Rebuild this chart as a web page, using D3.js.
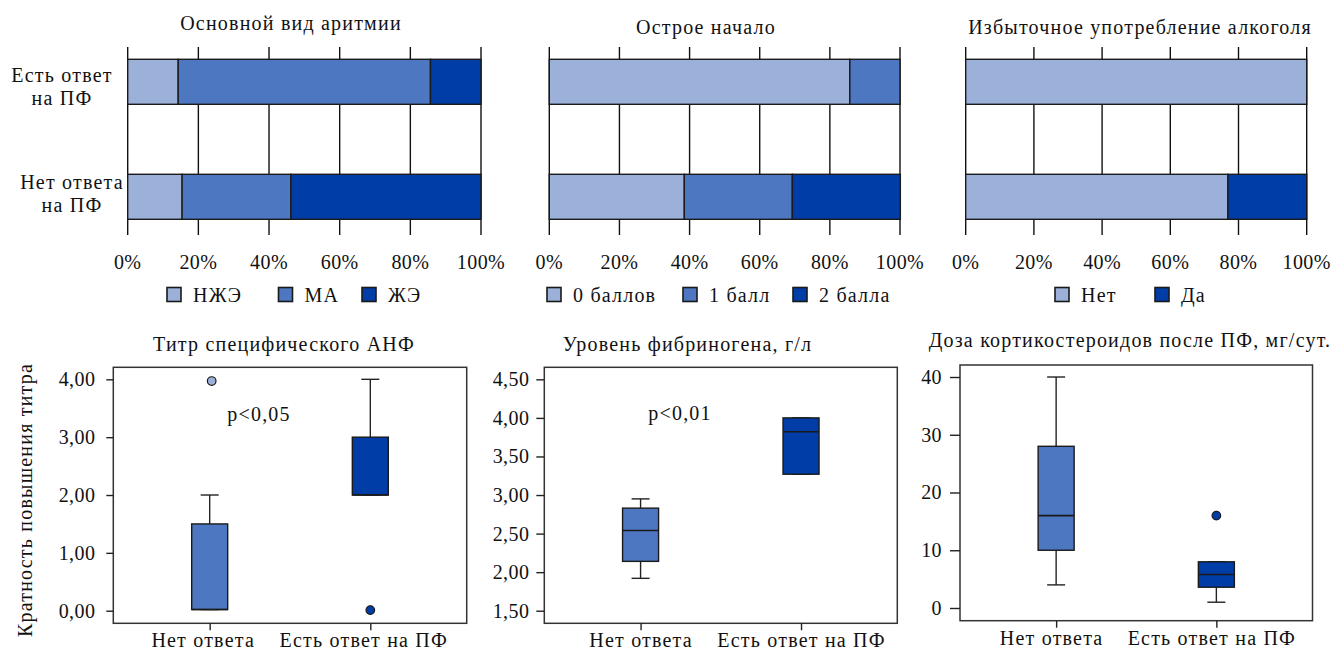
<!DOCTYPE html>
<html lang="ru">
<head>
<meta charset="utf-8">
<script src="https://cdn.jsdelivr.net/npm/d3@7"></script>
<style>
  html, body { margin: 0; padding: 0; background: #fff; }
  svg { display: block; }
  svg text { font-family: "Liberation Serif", "Times New Roman", serif; font-size: 20px; letter-spacing: 1.2px; fill: #111; }
  svg text.num { letter-spacing: 0.4px; }
</style>
</head>
<body>
<svg id="chart" width="1336" height="655"></svg>
<script>
// ---- Data ----
const groups = ["Есть ответ на ПФ", "Нет ответа на ПФ"];
const groupLines = [["Есть ответ", "на ПФ"], ["Нет ответа", "на ПФ"]];
const percentTicks = [0, 20, 40, 60, 80, 100];

const rhythmTypes = ["НЖЭ", "МА", "ЖЭ"];
const rhythmShares = [[14.3, 71.4, 14.3], [15.4, 30.8, 53.8]];

const onsetScores = ["0 баллов", "1 балл", "2 балла"];
const onsetShares = [[85.7, 14.3, 0], [38.5, 30.8, 30.8]];

const alcoholAnswers = ["Нет", "Да"];
const alcoholShares = [[100, 0], [76.9, 23.1]];

const boxGroups = ["Нет ответа", "Есть ответ на ПФ"];

const titerStats = [
  { low: 0.02, q1: 0.02, median: 0.02, q3: 1.5, high: 2.0 },
  { low: 2.0, q1: 2.0, median: 2.0, q3: 3.0, high: 4.0 }
];
const titerOutliers = [[3.97], [0.01]];
const titerTicks = [0, 1, 2, 3, 4];

const fibrinogenStats = [
  { low: 1.92, q1: 2.14, median: 2.54, q3: 2.83, high: 2.95 },
  { low: 3.27, q1: 3.27, median: 3.82, q3: 4.0, high: 4.0 }
];
const fibrinogenOutliers = [[], []];
const fibrinogenTicks = [1.5, 2, 2.5, 3, 3.5, 4, 4.5];

const steroidStats = [
  { low: 4, q1: 10, median: 16, q3: 28, high: 40 },
  { low: 1, q1: 3.6, median: 5.8, q3: 8, high: 8 }
];
const steroidOutliers = [[], [16]];
const steroidTicks = [0, 10, 20, 30, 40];

// ---- Palette ----
const LIGHT = "#9bb1da", MID = "#4d77c1", DARK = "#003da6";

const svg = d3.select("#chart");

// ---- Stacked percentage bars ----
function stackedPanel(cfg) {
  const g = svg.append("g");
  const x = d3.scaleLinear().domain([0, 100]).range([cfg.x0, cfg.x1]);
  const y = d3.scaleBand().domain(groups).range([59.3, 219.3])
    .paddingInner(70 / 115).paddingOuter(0);

  // vertical grid / tick lines
  g.append("g").selectAll("line").data(percentTicks).join("line")
    .attr("x1", d => x(d)).attr("x2", d => x(d))
    .attr("y1", 47).attr("y2", 235)
    .attr("stroke", "#111").attr("stroke-width", 1.4);

  const rows = groups.map((grp, i) => {
    const o = { group: grp };
    cfg.keys.forEach((k, j) => o[k] = cfg.values[i][j]);
    return o;
  });
  const series = d3.stack().keys(cfg.keys)(rows);

  g.append("g").selectAll("g").data(series).join("g")
    .attr("fill", (s, i) => cfg.colors[i])
    .selectAll("rect").data(s => s.filter(d => d[1] - d[0] > 0)).join("rect")
    .attr("x", d => x(d[0])).attr("width", d => x(d[1]) - x(d[0]))
    .attr("y", d => y(d.data.group)).attr("height", y.bandwidth())
    .attr("stroke", "#1a1a1a").attr("stroke-width", 1.4);

  // tick labels
  g.append("g").selectAll("text").data(percentTicks).join("text")
    .attr("class", "num")
    .attr("x", d => x(d)).attr("y", 269)
    .attr("text-anchor", "middle")
    .text(d => d + "%");

  // title
  g.append("text").attr("x", cfg.titleX).attr("y", cfg.titleY)
    .attr("text-anchor", "middle").text(cfg.title);

  // legend
  const items = g.append("g").selectAll("g").data(cfg.keys).join("g")
    .attr("transform", (d, i) => `translate(${cfg.legendX[i]},0)`);
  items.append("rect").attr("width", 14).attr("height", 14)
    .attr("y", 287.5).attr("fill", (d, i) => cfg.colors[i])
    .attr("stroke", "#1a1a1a").attr("stroke-width", 1.6);
  items.append("text").attr("x", 26).attr("y", 302).text(d => d);

  if (cfg.showGroups) {
    const baselines = [[82, 105], [189, 212]];
    const centers = [62, 72];
    const lab = g.append("g");
    groups.forEach((grp, i) => {
      const t = lab.append("text").attr("text-anchor", "middle");
      groupLines[i].forEach((line, k) => {
        t.append("tspan").attr("x", centers[i]).attr("y", baselines[i][k]).text(line);
      });
    });
  }
}

stackedPanel({ x0: 127.7, x1: 481, keys: rhythmTypes, values: rhythmShares,
  colors: [LIGHT, MID, DARK], title: "Основной вид аритмии", titleX: 291, titleY: 30,
  legendX: [167, 278.5, 362], showGroups: true });
stackedPanel({ x0: 549.3, x1: 900, keys: onsetScores, values: onsetShares,
  colors: [LIGHT, MID, DARK], title: "Острое начало", titleX: 706, titleY: 34,
  legendX: [547, 683, 793], showGroups: false });
stackedPanel({ x0: 965.7, x1: 1306.7, keys: alcoholAnswers, values: alcoholShares,
  colors: [LIGHT, DARK], title: "Избыточное употребление алкоголя", titleX: 1140, titleY: 34,
  legendX: [1055, 1155], showGroups: false });

// ---- Box plots ----
function boxPanel(cfg) {
  const g = svg.append("g");
  const x = d3.scalePoint().domain(boxGroups).range([cfg.x0, cfg.x1]).padding(0.6);
  const y = d3.scaleLinear().domain(cfg.domain).range([cfg.y1, cfg.y0]);

  g.append("rect").attr("x", cfg.x0).attr("y", cfg.y0)
    .attr("width", cfg.x1 - cfg.x0).attr("height", cfg.y1 - cfg.y0)
    .attr("fill", "none").attr("stroke", "#333").attr("stroke-width", 1.5);

  const yAxis = g.append("g").attr("transform", `translate(${cfg.x0},0)`)
    .call(d3.axisLeft(y).tickValues(cfg.ticks).tickFormat(cfg.fmt)
      .tickSize(cfg.tickLen).tickPadding(cfg.tickPad))
    .attr("font-family", null).attr("font-size", null);
  yAxis.select(".domain").remove();
  yAxis.selectAll("line").attr("stroke", "#222").attr("stroke-width", 1.4);
  yAxis.selectAll("text").attr("class", "num").attr("fill", null);

  const xAxis = g.append("g").attr("transform", `translate(0,${cfg.y1})`)
    .call(d3.axisBottom(x).tickSize(7).tickPadding(3))
    .attr("font-family", null).attr("font-size", null);
  xAxis.select(".domain").remove();
  xAxis.selectAll("line").attr("stroke", "#222").attr("stroke-width", 1.4);
  xAxis.selectAll("text").attr("fill", null).attr("dx", cfg.labelDx);

  const bw = 36, cap = 18;
  const boxes = g.append("g").selectAll("g").data(cfg.stats).join("g")
    .attr("transform", (d, i) => `translate(${x(boxGroups[i])},0)`);

  const stroke = sel => sel.attr("stroke", "#222").attr("stroke-width", 1.4);
  boxes.append("line").attr("x1", 0).attr("x2", 0)
    .attr("y1", d => y(d.q3)).attr("y2", d => y(d.high)).call(stroke);
  boxes.append("line").attr("x1", 0).attr("x2", 0)
    .attr("y1", d => y(d.q1)).attr("y2", d => y(d.low)).call(stroke);
  boxes.append("line").attr("x1", -cap / 2).attr("x2", cap / 2)
    .attr("y1", d => y(d.high)).attr("y2", d => y(d.high)).call(stroke);
  boxes.append("line").attr("x1", -cap / 2).attr("x2", cap / 2)
    .attr("y1", d => y(d.low)).attr("y2", d => y(d.low)).call(stroke);
  boxes.append("rect").attr("x", -bw / 2).attr("width", bw)
    .attr("y", d => y(d.q3)).attr("height", d => y(d.q1) - y(d.q3))
    .attr("fill", (d, i) => cfg.colors[i])
    .attr("stroke", "#1a1a1a").attr("stroke-width", 1.4);
  boxes.append("line").attr("x1", -bw / 2).attr("x2", bw / 2)
    .attr("y1", d => y(d.median)).attr("y2", d => y(d.median))
    .attr("stroke", "#1a1a1a").attr("stroke-width", 1.6);

  cfg.outliers.forEach((vals, i) => {
    g.append("g").selectAll("circle").data(vals).join("circle")
      .attr("cx", x(boxGroups[i]) + (cfg.outlierDx ? cfg.outlierDx[i] : 0))
      .attr("cy", d => y(d)).attr("r", 4.3)
      .attr("fill", cfg.outlierColors[i]).attr("stroke", "#1a1a1a").attr("stroke-width", 1.2);
  });

  g.append("text").attr("x", cfg.titleX).attr("y", cfg.titleY)
    .attr("text-anchor", "middle").text(cfg.title);

  if (cfg.note) {
    g.append("text").attr("x", cfg.note.x).attr("y", cfg.note.y)
      .attr("text-anchor", "middle").text(cfg.note.text);
  }
  if (cfg.yTitle) {
    g.append("text").attr("transform", "translate(32,500) rotate(-90)")
      .attr("text-anchor", "middle").text(cfg.yTitle);
  }
}

const comma2 = d => d3.format(".2f")(d).replace(".", ",");

boxPanel({ x0: 113.3, x1: 466.7, y0: 367.3, y1: 623.3,
  domain: [-0.218, 4.208], ticks: titerTicks, fmt: comma2, tickLen: 7, tickPad: 11,
  stats: titerStats, outliers: titerOutliers, outlierColors: [LIGHT, DARK], outlierDx: [2, 0],
  colors: [MID, DARK], title: "Титр специфического АНФ", titleX: 284, titleY: 351,
  note: { text: "p<0,05", x: 259, y: 421 }, labelDx: -7,
  yTitle: "Кратность повышения титра" });

boxPanel({ x0: 544.3, x1: 897.3, y0: 367.3, y1: 623.3,
  domain: [1.337, 4.656], ticks: fibrinogenTicks, fmt: comma2, tickLen: 8, tickPad: 7,
  stats: fibrinogenStats, outliers: fibrinogenOutliers, outlierColors: [MID, DARK],
  colors: [MID, DARK], title: "Уровень фибриногена, г/л", titleX: 687.5, titleY: 351,
  note: { text: "p<0,01", x: 680, y: 420 }, labelDx: 0 });

boxPanel({ x0: 960, x1: 1312.5, y0: 365, y1: 620.7,
  domain: [-2.2, 42.08], ticks: steroidTicks, fmt: d3.format("d"), tickLen: 10, tickPad: 8,
  stats: steroidStats, outliers: steroidOutliers, outlierColors: [MID, DARK],
  colors: [MID, DARK], title: "Доза кортикостероидов после ПФ, мг/сут.", titleX: 1130, titleY: 347,
  labelDx: -5 });
</script>
</body>
</html>
